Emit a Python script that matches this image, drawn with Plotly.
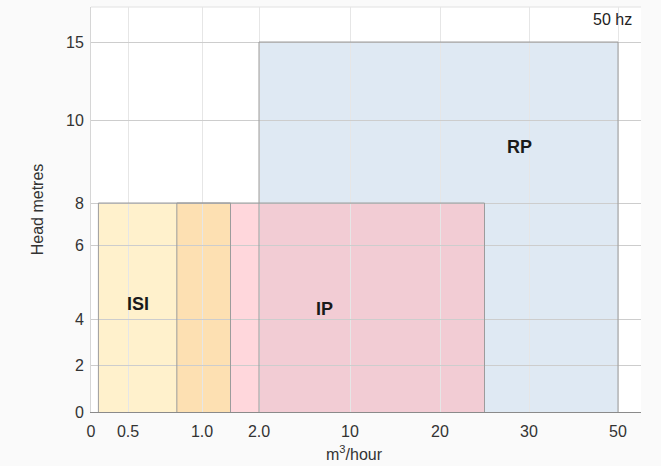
import numpy as np
import plotly.graph_objects as go

# ---------------- data ----------------
pumps = ["ISI", "IP", "RP"]
flow_min = [0.1, 0.83, 2.0]     # m3/hour
flow_max = [1.5, 25.0, 50.0]    # m3/hour
head_min = [0, 0, 0]            # metres
head_max = [8, 8, 15]           # metres
label_flow = [0.57, 7.8, 28.9]
label_head = [4.4, 4.27, 9.35]

x_tick_values = [0, 0.5, 1.0, 2.0, 10, 20, 30, 50]
x_tick_labels = ["0", "0.5", "1.0", "2.0", "10", "20", "30", "50"]
y_tick_values = [0, 2, 4, 6, 8, 10, 15]
y_tick_labels = ["0", "2", "4", "6", "8", "10", "15"]

# ---------------- custom (piecewise) axis scales ----------------
x_scale_pos = [0, 37, 111, 168, 259, 349, 438, 527]
y_scale_pos = [0, 47, 93, 167, 209, 292, 370]
X_RANGE = [0, 550]
Y_RANGE = [0, 405]


def sx(v):
    return float(np.interp(v, x_tick_values, x_scale_pos))


def sy(v):
    return float(np.interp(v, y_tick_values, y_scale_pos))


fill_colors = {"ISI": "#fff1cc", "IP": "#ffd7dc", "RP": "#dfe9f3"}
overlap_colors = {("ISI", "IP"): "#fde0b2", ("IP", "RP"): "#f2ccd4"}
outline = "#9c9c9c"
FONT = "Liberation Sans"

fig = go.Figure()
shapes = []

# base fills (RP first, then IP, then ISI)
for i in [2, 1, 0]:
    shapes.append(dict(type="rect", xref="x", yref="y", layer="below",
                       x0=sx(flow_min[i]), x1=sx(flow_max[i]),
                       y0=sy(head_min[i]), y1=sy(head_max[i]),
                       fillcolor=fill_colors[pumps[i]], line=dict(width=0)))

# overlap fills, computed as intersections
for (a, b), col in overlap_colors.items():
    ia, ib = pumps.index(a), pumps.index(b)
    x0 = max(flow_min[ia], flow_min[ib]); x1 = min(flow_max[ia], flow_max[ib])
    y0 = max(head_min[ia], head_min[ib]); y1 = min(head_max[ia], head_max[ib])
    if x1 > x0 and y1 > y0:
        shapes.append(dict(type="rect", xref="x", yref="y", layer="below",
                           x0=sx(x0), x1=sx(x1), y0=sy(y0), y1=sy(y1),
                           fillcolor=col, line=dict(width=0)))

# top border of plot area
shapes.append(dict(type="line", xref="paper", yref="paper", x0=0, x1=1, y0=1, y1=1,
                   line=dict(color="#e2e2e2", width=1), layer="below"))

# outlines as traces
for i, p in enumerate(pumps):
    xs = [sx(flow_min[i]), sx(flow_min[i]), sx(flow_max[i]), sx(flow_max[i])]
    ys = [sy(head_min[i]), sy(head_max[i]), sy(head_max[i]), sy(head_min[i])]
    fig.add_trace(go.Scatter(x=xs, y=ys, mode="lines", line=dict(color=outline, width=1),
                             hoverinfo="skip", showlegend=False, name=p))

annotations = []
for i, p in enumerate(pumps):
    annotations.append(dict(x=sx(label_flow[i]), y=sy(label_head[i]), xref="x", yref="y",
                            text="<b>%s</b>" % p, showarrow=False,
                            font=dict(family=FONT, size=18, color="#1a1a1a")))

W, H = 661, 466
L, R, T, B = 91, 20, 7, 54
pw, ph = W - L - R, H - T - B

annotations.append(dict(x=(634 - L) / pw, y=(H - 19 - B) / ph, xref="paper", yref="paper",
                        text="50 hz", showarrow=False, xanchor="right", yanchor="middle",
                        font=dict(family=FONT, size=16, color="#222")))
annotations.append(dict(x=(354 - L) / pw, y=(H - 453 - B) / ph, xref="paper", yref="paper",
                        text="m<sup>3</sup>/hour", showarrow=False,
                        xanchor="center", yanchor="middle",
                        font=dict(family=FONT, size=16, color="#333")))

fig.update_layout(
    width=W, height=H,
    margin=dict(l=L, r=R, t=T, b=B, pad=0),
    paper_bgcolor="#fafafa",
    plot_bgcolor="#ffffff",
    shapes=shapes,
    annotations=annotations,
    showlegend=False,
    font=dict(family=FONT, size=16, color="#333"),
    xaxis=dict(range=X_RANGE, tickmode="array", tickvals=[sx(v) for v in x_tick_values],
               ticktext=x_tick_labels, showgrid=True, gridcolor="#e6e6e6", gridwidth=1,
               zeroline=False, showline=True, linecolor="#8a8a8a", linewidth=1,
               ticks="outside", ticklen=5, tickcolor="rgba(0,0,0,0)",
               tickfont=dict(family=FONT, size=16, color="#333"), fixedrange=True),
    yaxis=dict(range=Y_RANGE, tickmode="array", tickvals=[sy(v) for v in y_tick_values],
               ticktext=y_tick_labels, showgrid=True, gridcolor="#cdcdcd", gridwidth=1,
               zeroline=False, showline=True, linecolor="#d6d6d6", linewidth=1,
               ticks="outside", ticklen=3, tickcolor="rgba(0,0,0,0)",
               title=dict(text="Head metres", font=dict(family=FONT, size=16, color="#333"),
                          standoff=18),
               tickfont=dict(family=FONT, size=16, color="#333"), fixedrange=True),
)

fig.write_html("out.html", config={"displayModeBar": False},
               post_script="document.body.style.margin='0';")
